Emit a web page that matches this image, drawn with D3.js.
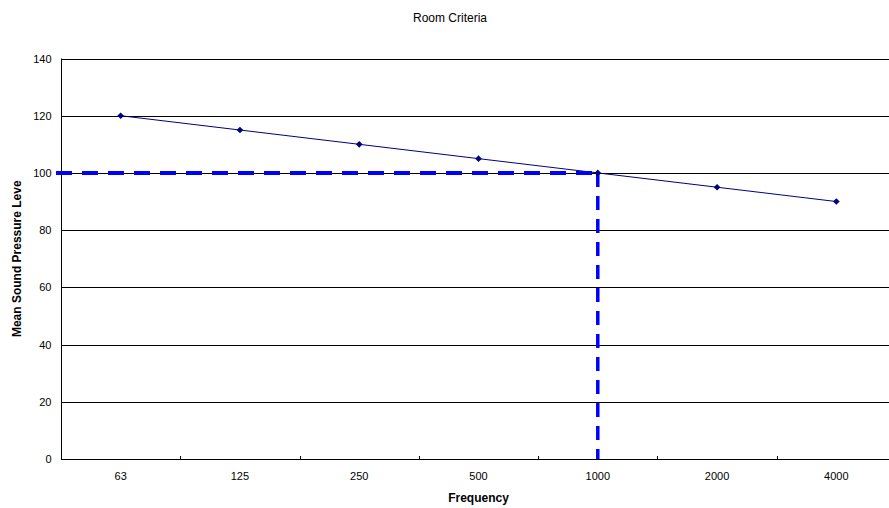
<!DOCTYPE html>
<html><head><meta charset="utf-8">
<script src="https://cdn.jsdelivr.net/npm/d3@7"></script>
<style>body{margin:0;background:#fff}svg{display:block}text{font-family:"Liberation Sans",Arial,sans-serif}</style>
</head><body>
<svg id="c" width="889" height="508"></svg>
<script>
const categories = ["63","125","250","500","1000","2000","4000"];
const values = [120,115,110,105,100,95,90];
const yTicks = [0,20,40,60,80,100,120,140];
const refX = "1000";
const refY = 100;

const svg = d3.select("#c");
const m = {left:61, top:58.5, right:896, bottom:459};
const x = d3.scaleBand().domain(categories).range([m.left, m.right]);
const y = d3.scaleLinear().domain([0,140]).range([m.bottom, m.top]);
const cx = d => x(d) + x.bandwidth()/2;

// gridlines
svg.append("g").selectAll("line").data(yTicks.filter(t=>t>0)).join("line")
  .attr("x1", m.left).attr("x2", m.right)
  .attr("y1", d=>Math.round(y(d))+0.5).attr("y2", d=>Math.round(y(d))+0.5)
  .attr("stroke","#000").attr("stroke-width",1);

// y axis
const ya = svg.append("g").attr("transform",`translate(${m.left+0.5},0)`)
  .call(d3.axisLeft(y).tickValues(yTicks).tickSize(0).tickPadding(10));
ya.select(".domain").attr("stroke","#000").attr("d",`M0,${m.top}V${m.bottom}`);
ya.selectAll("text").attr("font-size",11).attr("fill","#000")
  .attr("font-family","'Liberation Sans',Arial,sans-serif");

// x axis
const xa = svg.append("g").attr("transform",`translate(0,${m.bottom+0.5})`)
  .call(d3.axisBottom(x).tickSize(0).tickPadding(13));
xa.select(".domain").attr("stroke","#000").attr("d",`M${m.left},0H${m.right}`);
xa.selectAll("text").attr("font-size",11).attr("fill","#000")
  .attr("font-family","'Liberation Sans',Arial,sans-serif");
// category separators (inside ticks)
svg.append("g").selectAll("line").data(categories.slice(1)).join("line")
  .attr("x1", d=>Math.round(x(d))+0.5).attr("x2", d=>Math.round(x(d))+0.5)
  .attr("y1", m.bottom-3).attr("y2", m.bottom)
  .attr("stroke","#000");

// series line
const pts = categories.map((c,i)=>({c, v:values[i]}));
svg.append("path").datum(pts)
  .attr("d", d3.line().x(d=>cx(d.c)).y(d=>y(d.v)))
  .attr("fill","none").attr("stroke","#000080").attr("stroke-width",1);

// reference dashed lines
svg.append("line")
  .attr("x1", 56).attr("x2", cx(refX))
  .attr("y1", y(refY)).attr("y2", y(refY))
  .attr("stroke","#0000ff").attr("stroke-width",4).attr("stroke-dasharray","16,10");
svg.append("line")
  .attr("x1", cx(refX)).attr("x2", cx(refX))
  .attr("y1", y(refY)).attr("y2", m.bottom)
  .attr("stroke","#0000ff").attr("stroke-width",3.5).attr("stroke-dasharray","14,9");

// markers
svg.append("g").selectAll("path").data(pts).join("path")
  .attr("transform", d=>`translate(${cx(d.c)},${y(d.v)})`)
  .attr("d", d3.symbol(d3.symbolDiamond2, 28))
  .attr("fill","#000080");

// title and labels
svg.append("text").attr("x",450).attr("y",22).attr("text-anchor","middle")
  .attr("font-size",12).text("Room Criteria");
svg.append("text").attr("x",(m.left+m.right)/2).attr("y",502).attr("text-anchor","middle")
  .attr("font-size",12).attr("font-weight","bold").text("Frequency");
svg.append("text").attr("transform",`translate(21,${(m.top+m.bottom)/2}) rotate(-90)`)
  .attr("text-anchor","middle").attr("font-size",12).attr("font-weight","bold")
  .text("Mean Sound Pressure Leve");
</script>
</body></html>
